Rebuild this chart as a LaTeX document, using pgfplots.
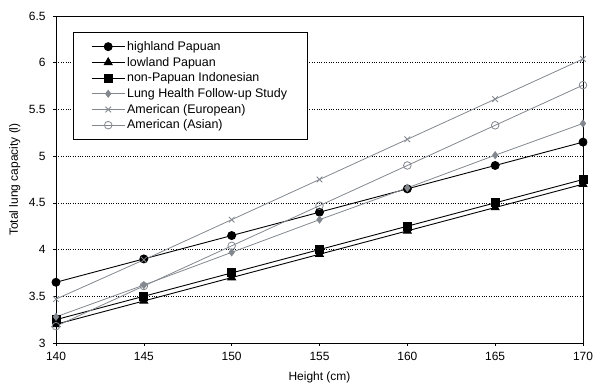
\documentclass[border=0pt]{standalone}
\usepackage{pgfplots}
\pgfplotsset{compat=1.18}
\usepackage{fontspec}
\setmainfont{Liberation Sans}
\definecolor{lgray}{RGB}{130,136,142}
\begin{document}
\begin{tikzpicture}[x=1bp,y=1bp]
\begin{axis}[
  name=ax,
  scale only axis,
  width=527bp, height=327bp,
  xmin=140, xmax=170, ymin=3, ymax=6.5,
  xtick={140,145,...,170}, ytick={3,3.5,...,6.5},
  yticklabel style={/pgf/number format/fixed, /pgf/number format/precision=1, xshift=-4bp},
  /pgf/number format/assume math mode=true,
  tick align=outside, tick pos=left,
  major tick length=3bp,
  ymajorgrids, grid style={black, dotted, line width=0.6pt},
  axis line style={black, line width=0.8pt},
  tick style={black, line width=0.6pt},
  ticklabel style={font=\fontsize{12}{14}\selectfont},
  xticklabel style={yshift=-3bp},
  xlabel={Height (cm)}, ylabel={Total lung capacity (l)},
  label style={font=\fontsize{12}{14}\selectfont},
  xlabel style={at={(rel axis cs:0.5,-0.104)}, anchor=center},
  ylabel style={at={(rel axis cs:-0.078,0.5)}, anchor=center},
  legend style={at={(rel axis cs:0.032,0.951)}, anchor=north west,
    draw=black, line width=0.8pt, font=\fontsize{12.5}{16}\selectfont,
    inner xsep=18bp, inner ysep=7bp, row sep=1.2bp,
    /tikz/every even column/.append style={column sep=3bp}},
  legend cell align=left,
  legend image code/.code={\draw[#1] (0bp,0bp) -- (33bp,0bp); \draw[#1,only marks] plot coordinates {(16.5bp,0bp)};},
]
\addplot[black, line width=0.9pt, mark=*, mark size=4bp] coordinates {(140,3.65)(145,3.9)(150,4.15)(155,4.4)(160,4.65)(165,4.9)(170,5.15)};
\addlegendentry{highland Papuan}
\addplot[black, line width=0.9pt, mark=triangle*, mark size=4.5bp] coordinates {(140,3.2)(145,3.45)(150,3.7)(155,3.95)(160,4.2)(165,4.45)(170,4.7)};
\addlegendentry{lowland Papuan}
\addplot[black, line width=0.9pt, mark=square*, mark size=4bp] coordinates {(140,3.25)(145,3.5)(150,3.75)(155,4.0)(160,4.25)(165,4.5)(170,4.75)};
\addlegendentry{non-Papuan Indonesian}
\addplot[lgray, line width=0.8pt, mark=diamond*, mark size=3.5bp] coordinates {(140,3.28)(145,3.62)(150,3.97)(155,4.32)(160,4.66)(165,5.01)(170,5.35)};
\addlegendentry{Lung Health Follow-up Study\hspace{55bp}}
\addplot[lgray, line width=0.8pt, mark=x, mark size=4bp] coordinates {(140,3.47)(145,3.89)(150,4.32)(155,4.75)(160,5.18)(165,5.61)(170,6.04)};
\addlegendentry{American (European)}
\addplot[lgray, line width=0.8pt, mark=o, mark size=3.8bp, mark options={fill=white}] coordinates {(140,3.18)(145,3.61)(150,4.04)(155,4.47)(160,4.9)(165,5.33)(170,5.76)};
\addlegendentry{American (Asian)}
\end{axis}
\pgfresetboundingbox
\path ([xshift=-56bp,yshift=-44bp]ax.south west) rectangle ([xshift=14bp,yshift=16bp]ax.north east);
\end{tikzpicture}
\end{document}
